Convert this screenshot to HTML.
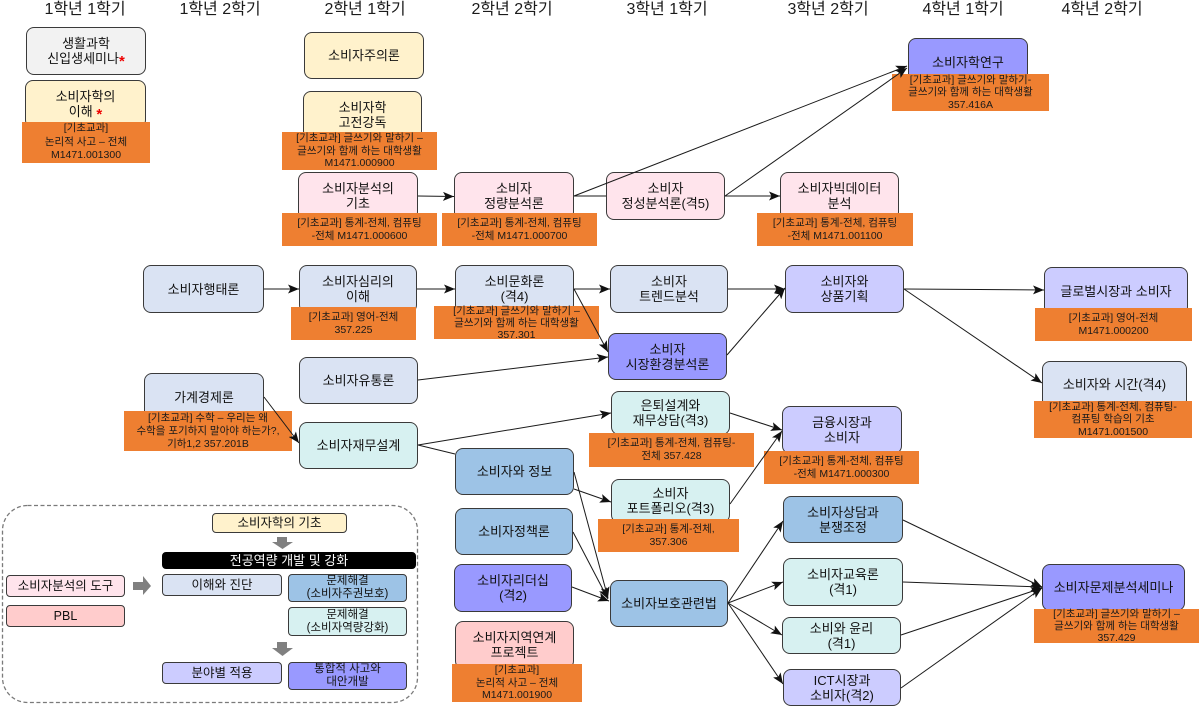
<!DOCTYPE html>
<html><head><meta charset="utf-8">
<style>
*{margin:0;padding:0;box-sizing:border-box}
body{width:1200px;height:707px;background:#fff;position:relative;overflow:hidden;font-family:"Liberation Sans","Noto Sans CJK KR",sans-serif;color:#111}
.h{position:absolute;top:0;width:140px;text-align:center;font-size:16px;line-height:20px;color:#1a1a1a}
.n{position:absolute;border:1px solid #3a3a3a;border-radius:8px;display:flex;align-items:center;justify-content:center;text-align:center;font-size:13px;line-height:15px;color:#111}
.o{position:absolute;background:#ee7f31;display:flex;align-items:center;justify-content:center;text-align:center;font-size:10.5px;line-height:13px;color:#1a1a1a;white-space:nowrap}
.l{position:absolute;border:1px solid #3a3a3a;border-radius:4px;display:flex;align-items:center;justify-content:center;text-align:center;font-size:12.5px;line-height:13px;color:#111}
.r{color:#e00;font-size:15px;font-weight:bold;position:relative;top:3px}
svg{position:absolute;left:0;top:0}
</style></head><body>

<svg width="1200" height="707" style="z-index:0">
<rect x="2.5" y="505.5" width="415" height="197" rx="25" ry="25" fill="none" stroke="#7a7a7a" stroke-width="1.3" stroke-dasharray="4 2.5"/>
<polygon points="277,537 287,537 287,542 293,542 282.5,549 272,542 277,542" fill="#808080"/>
<polygon points="277,642 287,642 287,648 293,648 282.5,656 272,648 277,648" fill="#808080"/>
<polygon points="133,582 143,582 143,576 151,586 143,595 143,590 133,590" fill="#808080"/>
</svg>

<div class="h" style="left:15px">1학년 1학기</div>
<div class="h" style="left:150px">1학년 2학기</div>
<div class="h" style="left:295px">2학년 1학기</div>
<div class="h" style="left:442px">2학년 2학기</div>
<div class="h" style="left:597px">3학년 1학기</div>
<div class="h" style="left:758px">3학년 2학기</div>
<div class="h" style="left:893px">4학년 1학기</div>
<div class="h" style="left:1032px">4학년 2학기</div>

<div class="n" style="left:26px;top:27px;width:120px;height:48px;background:#f2f2f2"><div>생활과학<br>신입생세미나<span class="r">*</span></div></div>
<div class="n" style="left:25px;top:80px;width:121px;height:48px;background:#fff2cc"><div>소비자학의<br>이해 <span class="r">*</span></div></div>
<div class="o" style="left:22px;top:122px;width:128px;height:41px;line-height:13.5px">[기초교과]<br>논리적 사고 – 전체<br>M1471.001300</div>

<div class="n" style="left:304px;top:32px;width:120px;height:47px;background:#fff2cc">소비자주의론</div>
<div class="n" style="left:303px;top:91px;width:119px;height:48px;background:#fff2cc">소비자학<br>고전강독</div>
<div class="o" style="left:282px;top:132px;width:155px;height:38px;line-height:12.5px">[기초교과] 글쓰기와 말하기 –<br>글쓰기와 함께 하는 대학생활<br>M1471.000900</div>
<div class="n" style="left:298px;top:172px;width:120px;height:48px;background:#ffe4ec">소비자분석의<br>기초</div>
<div class="o" style="left:282px;top:213px;width:155px;height:33px">[기초교과] 통계-전체, 컴퓨팅<br>-전체 M1471.000600</div>

<div class="n" style="left:454px;top:172px;width:120px;height:48px;background:#ffe4ec">소비자<br>정량분석론</div>
<div class="o" style="left:442px;top:213px;width:155px;height:33px">[기초교과] 통계-전체, 컴퓨팅<br>-전체 M1471.000700</div>

<div class="n" style="left:606px;top:172px;width:119px;height:48px;background:#ffe4ec">소비자<br>정성분석론(격5)</div>

<div class="n" style="left:780px;top:172px;width:119px;height:48px;background:#ffe4ec">소비자빅데이터<br>분석</div>
<div class="o" style="left:757px;top:213px;width:156px;height:33px">[기초교과] 통계-전체, 컴퓨팅<br>-전체 M1471.001100</div>

<div class="n" style="left:908px;top:38px;width:120px;height:48px;background:#9999ff">소비자학연구</div>
<div class="o" style="left:892px;top:74px;width:157px;height:37px;line-height:12.5px">[기초교과] 글쓰기와 말하기-<br>글쓰기와 함께 하는 대학생활<br>357.416A</div>

<div class="n" style="left:143px;top:265px;width:121px;height:48px;background:#dae3f3">소비자행태론</div>
<div class="n" style="left:299px;top:265px;width:118px;height:48px;background:#dae3f3">소비자심리의<br>이해</div>
<div class="o" style="left:291px;top:307px;width:125px;height:33px">[기초교과] 영어-전체<br>357.225</div>
<div class="n" style="left:455px;top:265px;width:119px;height:48px;background:#dae3f3">소비문화론<br>(격4)</div>
<div class="o" style="left:434px;top:306px;width:165px;height:33px;line-height:12px">[기초교과] 글쓰기와 말하기 –<br>글쓰기와 함께 하는 대학생활<br>357.301</div>
<div class="n" style="left:610px;top:265px;width:118px;height:48px;background:#dae3f3">소비자<br>트렌드분석</div>
<div class="n" style="left:608px;top:333px;width:119px;height:47px;background:#9999ff">소비자<br>시장환경분석론</div>
<div class="n" style="left:785px;top:265px;width:119px;height:48px;background:#ccccff">소비자와<br>상품기획</div>
<div class="n" style="left:1044px;top:267px;width:144px;height:48px;background:#ccccff">글로벌시장과 소비자</div>
<div class="o" style="left:1035px;top:308px;width:157px;height:33px">[기초교과] 영어-전체<br>M1471.000200</div>
<div class="n" style="left:1042px;top:361px;width:145px;height:47px;background:#dae3f3">소비자와 시간(격4)</div>
<div class="o" style="left:1034px;top:401px;width:158px;height:37px;line-height:12.5px">[기초교과] 통계-전체, 컴퓨팅-<br>컴퓨팅 학습의 기초<br>M1471.001500</div>

<div class="n" style="left:299px;top:357px;width:119px;height:47px;background:#dae3f3">소비자유통론</div>
<div class="n" style="left:144px;top:373px;width:120px;height:48px;background:#dae3f3">가계경제론</div>
<div class="o" style="left:124px;top:411px;width:168px;height:40px">[기초교과] 수학 – 우리는 왜<br>수학을 포기하지 말아야 하는가?,<br>기하1,2 357.201B</div>
<div class="n" style="left:299px;top:422px;width:119px;height:47px;background:#d7f1f1">소비자재무설계</div>

<div class="n" style="left:611px;top:391px;width:119px;height:44px;background:#d7f1f1">은퇴설계와<br>재무상담(격3)</div>
<div class="o" style="left:589px;top:433px;width:165px;height:34px">[기초교과] 통계-전체, 컴퓨팅-<br>전체 357.428</div>
<div class="n" style="left:782px;top:406px;width:120px;height:48px;background:#ccccff">금융시장과<br>소비자</div>
<div class="o" style="left:764px;top:451px;width:155px;height:33px">[기초교과] 통계-전체, 컴퓨팅<br>-전체 M1471.000300</div>

<div class="n" style="left:455px;top:448px;width:119px;height:47px;background:#9dc3e6">소비자와 정보</div>
<div class="n" style="left:611px;top:479px;width:119px;height:44px;background:#d7f1f1">소비자<br>포트폴리오(격3)</div>
<div class="o" style="left:598px;top:519px;width:141px;height:33px">[기초교과] 통계-전체,<br>357.306</div>
<div class="n" style="left:455px;top:508px;width:118px;height:47px;background:#9dc3e6">소비자정책론</div>
<div class="n" style="left:454px;top:564px;width:118px;height:48px;background:#9999ff">소비자리더십<br>(격2)</div>
<div class="n" style="left:455px;top:621px;width:119px;height:48px;background:#ffcccc">소비자지역연계<br>프로젝트</div>
<div class="o" style="left:452px;top:664px;width:130px;height:38px;line-height:12.5px">[기초교과]<br>논리적 사고 – 전체<br>M1471.001900</div>
<div class="n" style="left:610px;top:580px;width:118px;height:47px;background:#9dc3e6">소비자보호관련법</div>

<div class="n" style="left:783px;top:496px;width:120px;height:47px;background:#9dc3e6">소비자상담과<br>분쟁조정</div>
<div class="n" style="left:783px;top:558px;width:120px;height:48px;background:#d7f1f1">소비자교육론<br>(격1)</div>
<div class="n" style="left:782px;top:617px;width:119px;height:37px;background:#d7f1f1">소비와 윤리<br>(격1)</div>
<div class="n" style="left:783px;top:669px;width:118px;height:37px;background:#ccccff">ICT시장과<br>소비자(격2)</div>
<div class="n" style="left:1042px;top:564px;width:143px;height:47px;background:#9999ff">소비자문제분석세미나</div>
<div class="o" style="left:1034px;top:609px;width:165px;height:34px;line-height:12px">[기초교과] 글쓰기와 말하기 –<br>글쓰기와 함께 하는 대학생활<br>357.429</div>

<div class="l" style="left:212px;top:513px;width:135px;height:20px;background:#fff2cc">소비자학의 기초</div>
<div class="l" style="left:162px;top:552px;width:254px;height:17px;background:#000;color:#fff;border-color:#000;font-size:13px">전공역량 개발 및 강화</div>
<div class="l" style="left:162px;top:574px;width:120px;height:22px;background:#dae3f3">이해와 진단</div>
<div class="l" style="left:288px;top:574px;width:119px;height:28px;background:#9dc3e6;font-size:11.5px">문제해결<br>(소비자주권보호)</div>
<div class="l" style="left:288px;top:607px;width:119px;height:29px;background:#d7f1f1;font-size:11.5px">문제해결<br>(소비자역량강화)</div>
<div class="l" style="left:162px;top:662px;width:120px;height:22px;background:#ccccff">분야별 적용</div>
<div class="l" style="left:288px;top:662px;width:119px;height:28px;background:#9999ff;font-size:11.5px">통합적 사고와<br>대안개발</div>
<div class="l" style="left:6px;top:575px;width:119px;height:22px;background:#ffe4ec">소비자분석의 도구</div>
<div class="l" style="left:6px;top:605px;width:119px;height:22px;background:#ffcccc">PBL</div>

<svg width="1200" height="707" style="z-index:5;pointer-events:none">
<defs>
<marker id="a" markerUnits="userSpaceOnUse" markerWidth="11" markerHeight="9" viewBox="0 0 11 9" refX="11" refY="4.5" orient="auto">
<path d="M0,0 L11,4.5 L0,9 L2.5,4.5 z" fill="#111"/>
</marker>
</defs>
<g stroke="#1a1a1a" stroke-width="1" fill="none">
<line x1="418" y1="196" x2="454" y2="196.5" marker-end="url(#a)"/>
<line x1="574" y1="196" x2="606" y2="196"/>
<line x1="574" y1="196" x2="907" y2="66" marker-end="url(#a)"/>
<line x1="725" y1="196" x2="907" y2="68" marker-end="url(#a)"/>
<line x1="725" y1="196" x2="780" y2="196" marker-end="url(#a)"/>

<line x1="264" y1="289" x2="299" y2="289" marker-end="url(#a)"/>
<line x1="417" y1="289" x2="455" y2="289" marker-end="url(#a)"/>
<line x1="574" y1="289" x2="610" y2="289" marker-end="url(#a)"/>
<line x1="574" y1="289" x2="608" y2="352" marker-end="url(#a)"/>
<line x1="418" y1="380" x2="608" y2="357" marker-end="url(#a)"/>
<line x1="728" y1="289" x2="785" y2="289" marker-end="url(#a)"/>
<line x1="727" y1="355" x2="785" y2="288" marker-end="url(#a)"/>
<line x1="904" y1="289" x2="1044" y2="290" marker-end="url(#a)"/>
<line x1="904" y1="289" x2="1042" y2="383" marker-end="url(#a)"/>

<line x1="264" y1="397" x2="299" y2="443" marker-end="url(#a)"/>
<line x1="418" y1="445" x2="611" y2="413" marker-end="url(#a)"/>
<line x1="418" y1="445" x2="455" y2="454"/>
<line x1="730" y1="413" x2="782" y2="430" marker-end="url(#a)"/>
<line x1="730" y1="504" x2="782" y2="431" marker-end="url(#a)"/>

<line x1="574" y1="489" x2="611" y2="502" marker-end="url(#a)"/>
<line x1="574" y1="472" x2="608" y2="598" marker-end="url(#a)"/>
<line x1="573" y1="532" x2="608" y2="599" marker-end="url(#a)"/>
<line x1="572" y1="587" x2="609" y2="601" marker-end="url(#a)"/>

<line x1="728" y1="603" x2="783" y2="521" marker-end="url(#a)"/>
<line x1="728" y1="603" x2="783" y2="582" marker-end="url(#a)"/>
<line x1="728" y1="603" x2="782" y2="635" marker-end="url(#a)"/>
<line x1="728" y1="603" x2="783" y2="684" marker-end="url(#a)"/>

<line x1="903" y1="520" x2="1042" y2="587" marker-end="url(#a)"/>
<line x1="903" y1="582" x2="1042" y2="587" marker-end="url(#a)"/>
<line x1="901" y1="635" x2="1042" y2="588" marker-end="url(#a)"/>
<line x1="901" y1="688" x2="1042" y2="588" marker-end="url(#a)"/>
</g>
</svg>
</body></html>
